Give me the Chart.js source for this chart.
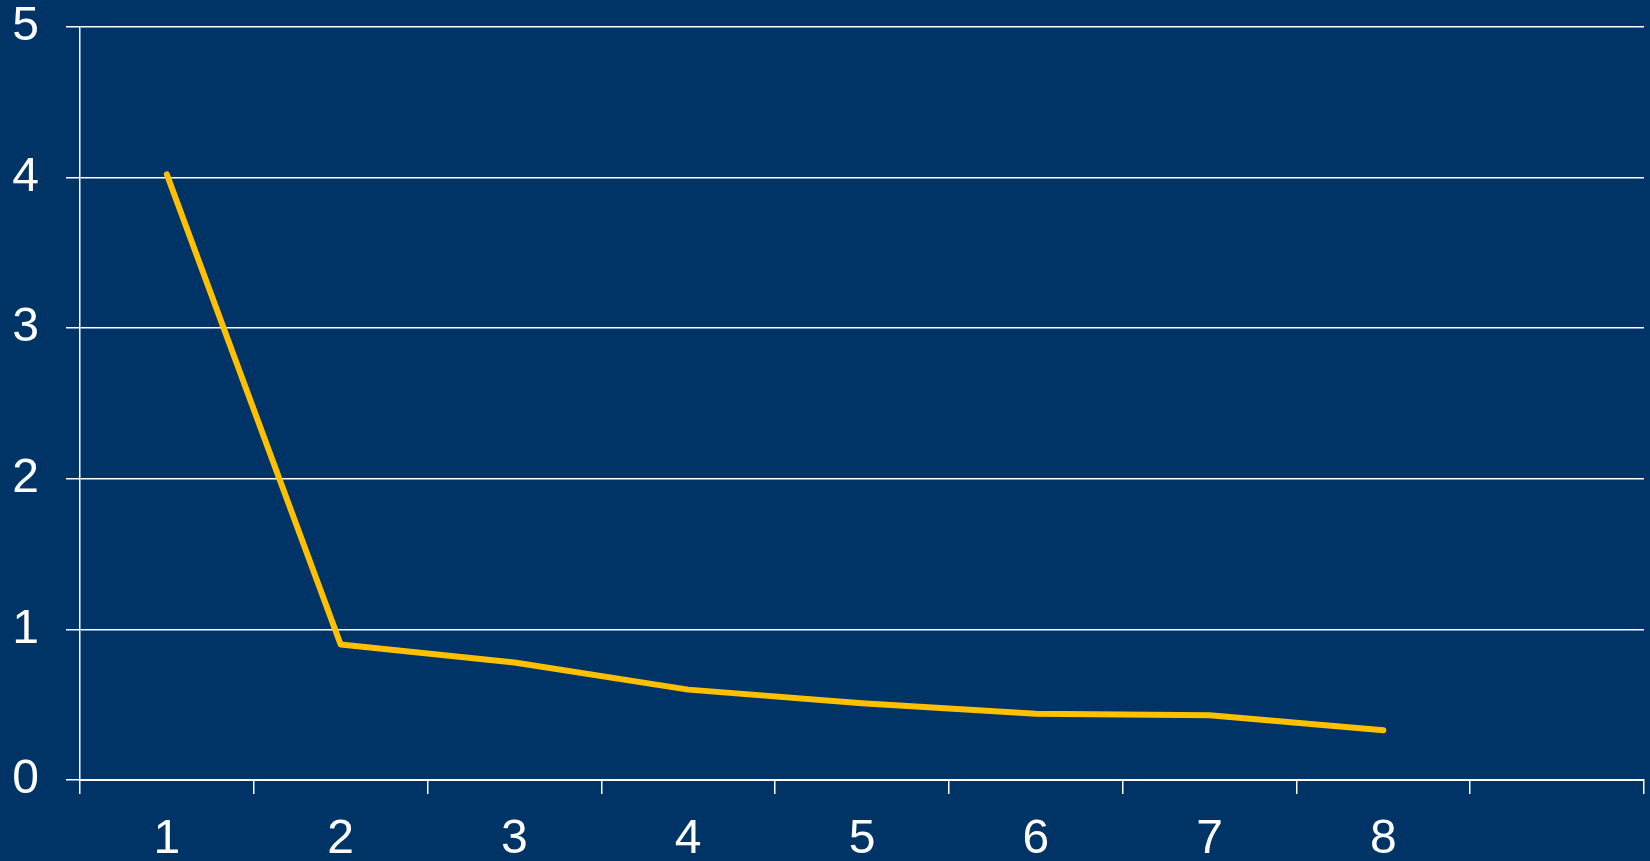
<!DOCTYPE html>
<html>
<head>
<meta charset="utf-8">
<script src="https://cdn.jsdelivr.net/npm/chart.js"></script>
<style>
  html, body { margin: 0; padding: 0; background: #003366; overflow: hidden; }
  /* canvas is a bit taller and pulled up so the plot top sits near the window edge */
  #wrap { width: 1650px; height: 890px; margin-top: -29px; }
</style>
</head>
<body>
<div id="wrap"><canvas id="lineChart"></canvas></div>
<script>
// categories (the 9th slot is empty in the original)
const categories = ['1', '2', '3', '4', '5', '6', '7', '8', ''];
const values = [4.02, 0.90, 0.78, 0.60, 0.51, 0.44, 0.43, 0.33, null];
const yTicks = [0, 1, 2, 3, 4, 5];

const data = {
    labels: categories,
    datasets: [{
        data: values,
        borderColor: '#ffc000',
        borderWidth: 6,
        pointRadius: 0,
        borderCapStyle: 'round',
        borderJoinStyle: 'round',
        tension: 0,
        fill: false
    }]
};

const config = {
    type: 'line',
    data: data,
    options: {
        responsive: true,
        maintainAspectRatio: false,
        animation: false,
        layout: { padding: { top: 0, right: 6, left: 0, bottom: 0 } },
        plugins: { legend: { display: false }, tooltip: { enabled: false } },
        scales: {
            x: {
                offset: true,
                grid: {
                    offset: true,
                    drawOnChartArea: false,
                    drawTicks: true,
                    tickLength: 14,
                    color: '#ffffff',
                    lineWidth: 1.5
                },
                border: { color: '#ffffff', width: 2 },
                ticks: {
                    color: '#ffffff',
                    font: { family: 'Liberation Sans, Arial, sans-serif', size: 48 },
                    padding: 17,
                    maxRotation: 0,
                    autoSkip: false
                },
                afterFit: function(scale) { scale.height = 81; }
            },
            y: {
                min: 0,
                max: 5,
                afterBuildTicks: function(scale) {
                    scale.ticks = yTicks.map(v => ({ value: v }));
                },
                grid: {
                    color: '#ffffff',
                    lineWidth: 1.5,
                    tickLength: 14
                },
                border: { color: '#ffffff', width: 1.5 },
                ticks: {
                    color: '#ffffff',
                    font: { family: 'Liberation Sans, Arial, sans-serif', size: 48 },
                    padding: 27
                },
                afterFit: function(scale) { scale.width = 80; }
            }
        }
    }
};

const lineChart = new Chart(document.getElementById('lineChart'), config);
</script>
</body>
</html>
